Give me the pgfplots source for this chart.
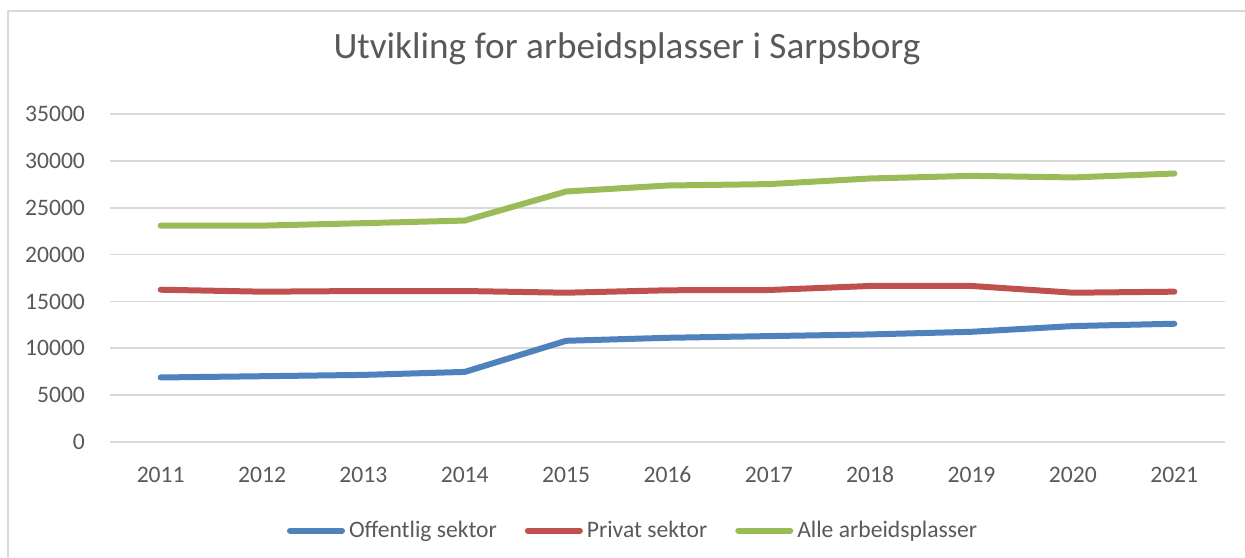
\documentclass[border=0pt]{standalone}
\usepackage{pgfplots}
\pgfplotsset{compat=1.18}
\usepackage{fontspec}
\setmainfont{Carlito}
\definecolor{txt}{HTML}{595959}
\definecolor{gridc}{HTML}{D9D9D9}
\definecolor{cblue}{HTML}{4F81BD}
\definecolor{cred}{HTML}{C0504D}
\definecolor{cgreen}{HTML}{9BBB59}
\begin{document}
\begin{tikzpicture}
\useasboundingbox (-55pt,-57.5pt) rectangle (567.5pt,221pt);
\draw[gridc, line width=0.9pt] (-51pt,-60pt) -- (-51pt,215.5pt) -- (570pt,215.5pt);
\begin{axis}[
    at={(0,0)}, anchor=origin,
    scale only axis,
    width=557.5pt, height=164pt,
    xmin=2010.5, xmax=2021.5,
    ymin=0, ymax=35000,
    xtick={2011,...,2021},
    ytick={0,5000,...,35000},
    scaled y ticks=false,
    axis line style={draw=none},
    major tick length=0pt,
    ymajorgrids,
    grid style={gridc, line width=0.9pt},
    /pgf/number format/assume math mode=true,
    /pgf/number format/1000 sep={},
    tick label style={font=\fontsize{11.8}{13}\selectfont, text=txt},
    yticklabel style={xshift=-9pt},
    xticklabel style={yshift=-8pt, text height=8.5pt, text depth=0pt},
    legend columns=3,
    legend style={at={(0.47,-0.27)}, anchor=center, draw=none, fill=none,
      font=\fontsize{11.8}{13}\selectfont, text=txt,
      /tikz/every even column/.append style={column sep=12pt}},
    legend image code/.code={\draw[#1, line cap=round] (0pt,0pt) -- (26pt,0pt);},
    every axis plot/.append style={line width=3pt, line cap=round, line join=round},
  ]
  \addplot[cblue] coordinates {
    (2011,6885) (2012,7020) (2013,7160) (2014,7480) (2015,10800)
    (2016,11120) (2017,11300) (2018,11480) (2019,11760) (2020,12370) (2021,12620)
  };
  \addlegendentry{Offentlig sektor}
  \addplot[cred] coordinates {
    (2011,16250) (2012,16040) (2013,16110) (2014,16110) (2015,15930)
    (2016,16190) (2017,16220) (2018,16650) (2019,16650) (2020,15930) (2021,16040)
  };
  \addlegendentry{Privat sektor}
  \addplot[cgreen] coordinates {
    (2011,23090) (2012,23090) (2013,23350) (2014,23630) (2015,26730)
    (2016,27370) (2017,27520) (2018,28120) (2019,28400) (2020,28230) (2021,28650)
  };
  \addlegendentry{Alle arbeidsplasser}
\end{axis}
\node[anchor=base, text=txt, font=\fontsize{18.6}{22}\selectfont] at (258.5pt,191.5pt) {Utvikling for arbeidsplasser i Sarpsborg};
\end{tikzpicture}
\end{document}
